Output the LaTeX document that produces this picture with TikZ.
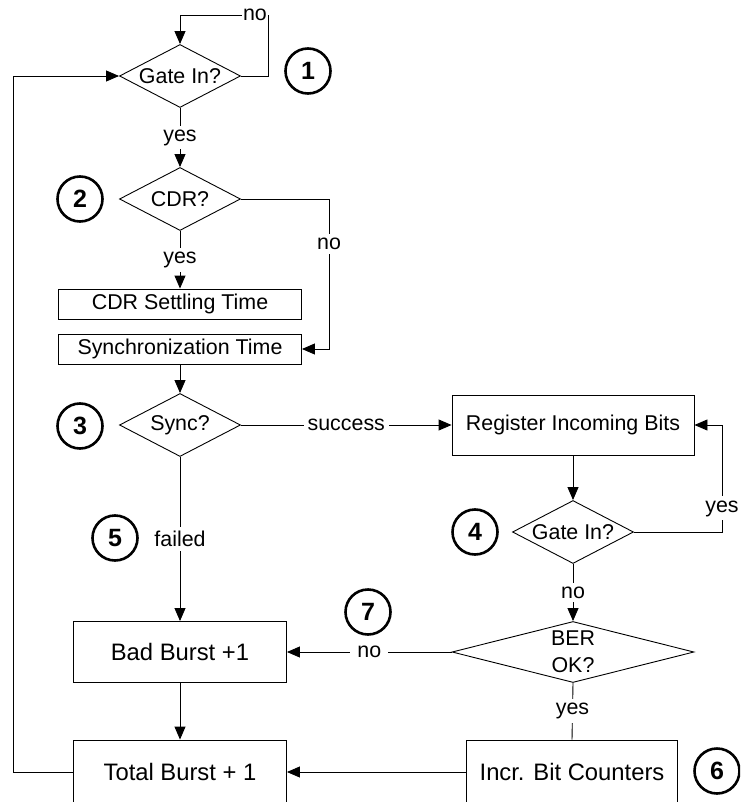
\documentclass[tikz,border=0pt]{standalone}
\usepackage{fontspec}
\setmainfont{Liberation Sans}
\usetikzlibrary{arrows.meta,shapes.geometric}

\begin{document}
\begin{tikzpicture}[
    x=1pt,y=-1pt,
    decision/.style={diamond,draw,line width=0.9pt,inner sep=0pt,aspect=2,
                     minimum width=121pt,minimum height=63pt,align=center,
                     font=\fontsize{21.4}{27}\selectfont},
    timebox/.style={rectangle,draw,line width=0.9pt,inner sep=0pt,
                    minimum width=243pt,minimum height=30pt,
                    font=\fontsize{21.4}{26}\selectfont},
    burstbox/.style={rectangle,draw,line width=0.9pt,inner sep=0pt,
                     minimum width=213pt,minimum height=61pt,
                     font=\fontsize{23.8}{28}\selectfont},
    flowline/.style={line width=0.9pt,-{Triangle[length=13pt,width=11pt]}},
    edgelbl/.style={fill=white,inner sep=4pt,font=\fontsize{21.4}{26}\selectfont},
    stagenum/.style={circle,draw,line width=2.6pt,inner sep=0pt,minimum size=45pt,
                     font=\fontsize{25}{30}\bfseries\selectfont}
  ]
  \clip (0,0) rectangle (740,802);
  \fill[white] (0,0) rectangle (740,802);

  % decisions and boxes
  \node[decision] (gate1) at (180,76)  {Gate In?};
  \node[decision] (cdr)   at (180,199) {CDR?};
  \node[timebox]  (settle) at (180,304) {CDR Settling Time};
  \node[timebox]  (synct)  at (180,349) {Synchronization Time};
  \node[decision] (sync)  at (180,425) {Sync?};
  \node[burstbox,minimum width=242pt,minimum height=60pt,
        font=\fontsize{21.4}{26}\selectfont] (reg) at (573,425) {Register Incoming Bits};
  \node[decision] (gate4) at (573,532) {Gate In?};
  \node[decision,aspect=4,minimum width=242pt,minimum height=61pt] (ber) at (573,652) {BER\\OK?};
  \node[burstbox] (bad)   at (180,652) {Bad Burst +1};
  \node[burstbox,minimum height=64pt] (total) at (180,772) {Total Burst + 1};
  \node[burstbox,minimum width=211pt,minimum height=64pt] (incr) at (572,772) {Incr. Bit Counters};

  % step numbers
  \node[stagenum] (n1) at (308,71)  {1};
  \node[stagenum] (n2) at (80,199)  {2};
  \node[stagenum] (n3) at (80,426)  {3};
  \node[stagenum] (n4) at (475,532) {4};
  \node[stagenum] (n5) at (115,538) {5};
  \node[stagenum] (n6) at (717,771) {6};
  \node[stagenum] (n7) at (368,612) {7};

  % corners of the loops
  \coordinate (loopc) at (268,15);
  \coordinate (cdrc)  at (329,199);
  \coordinate (yesc)  at (722,532);
  \coordinate (backc) at (13,772);

  % connectors
  \draw[flowline] (gate1.east) -| (loopc) -| (gate1.north);
  \node[edgelbl,anchor=east,inner xsep=1pt,inner ysep=6pt] at (loopc) {no};
  \draw[flowline] (gate1.south) -- node[edgelbl] {yes} (cdr.north);
  \draw[flowline] (cdr.south) -- node[edgelbl] {yes} (settle.north);
  \draw[flowline] (cdr.east) -- (cdrc) |- node[edgelbl,pos=0.15] {no} (synct.east);
  \draw[flowline] (synct.south) -- (sync.north);
  \draw[flowline] (sync.east) -- node[edgelbl] {success} (reg.west);
  \draw[flowline] (reg.south) -- (gate4.north);
  \draw[flowline] (gate4.east) -- (yesc) |- node[edgelbl,pos=0.11] {yes} (reg.east);
  \draw[flowline] (gate4.south) -- node[edgelbl] {no} (ber.north);
  \draw[flowline] (sync.south) -- node[edgelbl] {failed} (bad.north);
  \draw[flowline] (ber.west) -- node[edgelbl,inner sep=7pt] {no} (bad.east);
  \draw[line width=0.9pt] (ber.south) -- node[edgelbl] {yes} (incr.north);
  \draw[flowline] (bad.south) -- (total.north);
  \draw[flowline] (incr.west) -- (total.east);
  \draw[flowline] (total.west) -- (backc) |- (gate1.west);
\end{tikzpicture}
\end{document}
